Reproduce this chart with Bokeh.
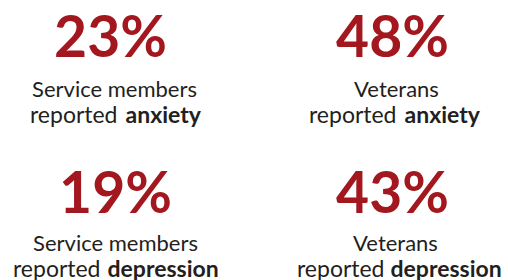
from bokeh.plotting import figure
from bokeh.models import Range1d, ColumnDataSource
from bokeh.core.properties import value
from bokeh.embed import file_html
from bokeh.resources import INLINE

# ---- data ----
percentages = [23, 48, 19, 43]
groups = ["Service members", "Veterans", "Service members", "Veterans"]
conditions = ["anxiety", "anxiety", "depression", "depression"]
prefix = "reported"

# ---- layout (picture pixels) ----
num_x = [110, 392, 115, 392]
grp_x = [114, 396, 115, 395]
num_y = [34, 34, 190, 190]
line1_y = [88, 88, 242, 242]
line2_y = [113, 113, 267, 267]
split_left = [117, 396, 100, 384]
split_right = [125, 404, 107, 390]

RED = "#A3181F"
GRAY = "#231F20"
FONT = "Lato"

p = figure(width=508, height=280, output_backend="svg", toolbar_location=None,
           x_range=Range1d(0, 508), y_range=Range1d(280, 0),
           min_border=0, outline_line_color=None)
p.axis.visible = False
p.grid.visible = False
p.background_fill_color = "white"
p.border_fill_color = "white"

src = ColumnDataSource(dict(
    nx=num_x, gx=grp_x, ny=num_y, l1=line1_y, l2=line2_y,
    sl=split_left, sr=split_right,
    num=[f"{v}%" for v in percentages],
    grp=groups, pre=[prefix] * len(groups), cond=conditions,
))

p.text(x="nx", y="ny", text="num", source=src, text_align="center",
       text_baseline="alphabetic", text_font=value(FONT),
       text_font_style="bold", text_font_size="57px", text_color=RED)
p.text(x="gx", y="l1", text="grp", source=src, text_align="center",
       text_baseline="alphabetic", text_font=value(FONT),
       text_font_size="22px", text_color=GRAY)
p.text(x="sl", y="l2", text="pre", source=src, text_align="right",
       text_baseline="alphabetic", text_font=value(FONT),
       text_font_size="23px", text_color=GRAY)
p.text(x="sr", y="l2", text="cond", source=src, text_align="left",
       text_baseline="alphabetic", text_font=value(FONT),
       text_font_style="bold", text_font_size="23px", text_color=GRAY)

open("out.html", "w").write(file_html(p, INLINE))
